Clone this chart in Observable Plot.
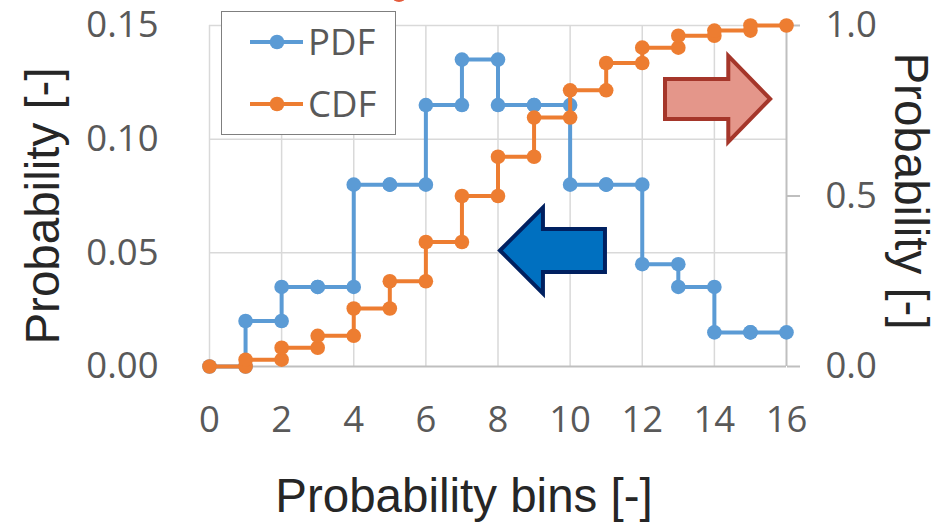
<!DOCTYPE html>
<html>
<head>
<meta charset="utf-8">
<script src="https://cdn.jsdelivr.net/npm/d3@7"></script>
<script src="https://cdn.jsdelivr.net/npm/@observablehq/plot@0.6"></script>
<style>
  html, body { margin: 0; padding: 0; background: #fff; }
  #wrap { position: relative; width: 942px; height: 522px; overflow: hidden; }
  #wrap svg { display: block; }
  #legend {
    position: absolute; left: 221px; top: 11px; width: 173px; height: 122px;
    border: 1.5px solid #7f7f7f; background: #fff;
  }
  #redcap {
    position: absolute; left: 392px; top: -10px; width: 14px; height: 12px;
    border-radius: 50%; background: #e45b3b;
  }
</style>
</head>
<body>
<div id="wrap">
  <div id="redcap"></div>
</div>
<script>
// ---- data ----
const bins = [0, 1, 2, 3, 4, 5, 6, 7, 8, 9, 10, 11, 12, 13, 14, 15];
const pdf = [0, 0.02, 0.035, 0.035, 0.08, 0.08, 0.115, 0.135, 0.115, 0.115, 0.08, 0.08, 0.045, 0.035, 0.015, 0.015];
const cdf = [0, 0.02, 0.055, 0.09, 0.17, 0.25, 0.365, 0.5, 0.615, 0.73, 0.81, 0.89, 0.935, 0.97, 0.985, 1.0];
const xTicks = [0, 2, 4, 6, 8, 10, 12, 14, 16];
const leftTicks = [0, 0.05, 0.10, 0.15];
const rightTicks = [0, 0.5, 1.0];
const seriesNames = ["PDF", "CDF"];
const seriesColors = ["#5b9bd5", "#ed7d31"];
const xTitle = "Probability bins [-]";
const yTitleLeft = "Probability [-]";
const yTitleRight = "Probability [-]";

// ---- derived tables ----
const leftMax = 0.15, rightMax = 1.0, k = leftMax / rightMax;
function stepRows(values, scale) {
  const rows = [];
  bins.forEach((b, i) => {
    rows.push({x: b, y: values[i] * scale});
    rows.push({x: b + 1, y: values[i] * scale});
  });
  return rows;
}
const pdfRows = stepRows(pdf, 1);
const cdfRows = stepRows(cdf, k);

const tickFont = "'Open Sans', sans-serif";
const titleFont = "'Liberation Sans', Arial, sans-serif";
const tickSize = 36.5;

const chart = Plot.plot({
  width: 942, height: 522,
  marginLeft: 209, marginRight: 156, marginTop: 25, marginBottom: 156,
  x: {domain: [0, 16]},
  y: {domain: [0, leftMax]},
  style: {fontFamily: tickFont, fontSize: tickSize + "px", color: "#595959", background: "transparent", overflow: "visible"},
  marks: [
    Plot.gridY(leftTicks.filter(d => d > 0), {stroke: "#d9d9d9", strokeOpacity: 1, strokeWidth: 1.5}),
    Plot.gridX(xTicks.filter(d => d < 16), {stroke: "#d9d9d9", strokeOpacity: 1, strokeWidth: 1.5}),
    Plot.ruleY([0], {stroke: "#bfbfbf", strokeWidth: 2}),
    Plot.ruleX([16], {stroke: "#bfbfbf", strokeWidth: 2}),
    Plot.axisX(xTicks, {tickSize: 0, tickPadding: 40, fontSize: tickSize, fill: "#595959", label: null}),
    Plot.axisY(leftTicks, {tickSize: 0, tickPadding: 51, fontSize: tickSize, fill: "#595959", tickFormat: d => d.toFixed(2), label: null}),
    Plot.axisY(rightTicks.map(d => d * k), {anchor: "right", tickSize: 13, tickPadding: 26, stroke: "#bfbfbf", strokeWidth: 2, fontSize: tickSize, fill: "#595959", tickFormat: d => (d / k).toFixed(1), label: null}),
    Plot.text([xTitle], {frameAnchor: "bottom", textAnchor: "middle", lineAnchor: "middle", dx: -34, dy: 130, fontFamily: titleFont, fontSize: 47.5, fill: "#262626"}),
    Plot.text([yTitleLeft], {frameAnchor: "left", textAnchor: "middle", lineAnchor: "middle", rotate: -90, dx: -166, dy: 10, fontFamily: titleFont, fontSize: 47.5, fill: "#262626"}),
    Plot.text([yTitleRight], {frameAnchor: "right", textAnchor: "middle", lineAnchor: "middle", rotate: 90, dx: 124, dy: -5, fontFamily: titleFont, fontSize: 47.5, fill: "#262626"}),
    Plot.line(pdfRows, {x: "x", y: "y", stroke: seriesColors[0], strokeWidth: 4}),
    Plot.dot(pdfRows, {x: "x", y: "y", r: 7.3, fill: seriesColors[0], stroke: "none"}),
    Plot.line(cdfRows, {x: "x", y: "y", stroke: seriesColors[1], strokeWidth: 4}),
    Plot.dot(cdfRows, {x: "x", y: "y", r: 7.3, fill: seriesColors[1], stroke: "none"})
  ]
});

// ---- arrow annotations (in data units) ----
const xs = chart.scale("x"), ys = chart.scale("y");
const arrows = [
  {tip: 8.07, headBase: 9.26, tail: 10.98, cy: 0.0508, shaftHalf: 0.0095, headHalf: 0.0189, fill: "#0070c0", stroke: "#002060"},
  {tip: 15.56, headBase: 14.40, tail: 12.645, cy: 0.1175, shaftHalf: 0.0088, headHalf: 0.0189, fill: "#e4968a", stroke: "#a5362a"}
];
const svg = d3.select(chart.tagName.toLowerCase() === "svg" ? chart : chart.querySelector("svg"));
arrows.forEach(a => {
  const pts = [
    [a.tip, a.cy],
    [a.headBase, a.cy + a.headHalf],
    [a.headBase, a.cy + a.shaftHalf],
    [a.tail, a.cy + a.shaftHalf],
    [a.tail, a.cy - a.shaftHalf],
    [a.headBase, a.cy - a.shaftHalf],
    [a.headBase, a.cy - a.headHalf]
  ].map(([x, y]) => [xs.apply(x), ys.apply(y)]);
  svg.append("polygon")
    .attr("points", pts.map(p => p.join(",")).join(" "))
    .attr("fill", a.fill).attr("stroke", a.stroke).attr("stroke-width", 4)
    .attr("stroke-linejoin", "miter");
});

const wrap = document.getElementById("wrap");
wrap.insertBefore(chart, wrap.firstChild);

// ---- legend ----
const legend = document.createElement("div");
legend.id = "legend";
const lsvg = d3.create("svg").attr("width", 173).attr("height", 122)
  .style("font-family", tickFont).style("font-size", tickSize + "px");
seriesNames.forEach((name, i) => {
  const cy = 30 + i * 62;
  lsvg.append("line").attr("x1", 28).attr("x2", 81).attr("y1", cy).attr("y2", cy)
    .attr("stroke", seriesColors[i]).attr("stroke-width", 4);
  lsvg.append("circle").attr("cx", 55).attr("cy", cy).attr("r", 7.3).attr("fill", seriesColors[i]);
  lsvg.append("text").attr("x", 86).attr("y", cy).attr("dy", "0.35em")
    .attr("fill", "#595959").text(name);
});
legend.appendChild(lsvg.node());
wrap.appendChild(legend);
</script>
</body>
</html>
